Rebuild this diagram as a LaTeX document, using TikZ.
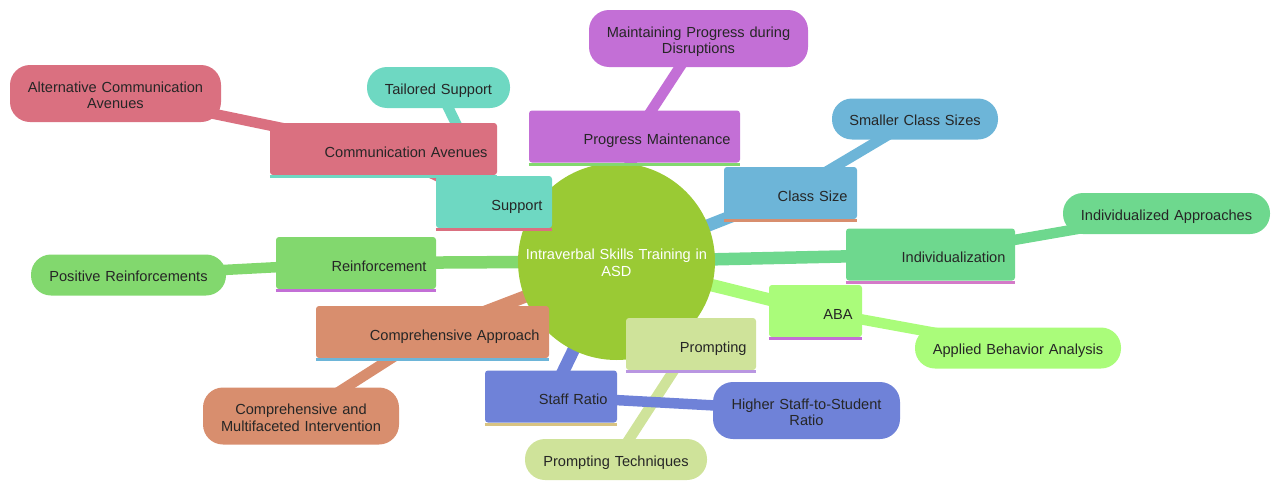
\documentclass[tikz,border=0pt]{standalone}
\usepackage{fontspec}
\setmainfont{Liberation Sans}
\usepackage{tikz}
\usetikzlibrary{positioning}

\pgfdeclarelayer{background}
\pgfsetlayers{background,main}

\definecolor{rootgreen}{RGB}{154,202,52}
\definecolor{commred}{RGB}{218,112,128}
\definecolor{supteal}{RGB}{110,216,194}
\definecolor{progpurple}{RGB}{195,111,214}
\definecolor{classblue}{RGB}{109,181,216}
\definecolor{indgreen}{RGB}{110,216,142}
\definecolor{abagreen}{RGB}{170,252,122}
\definecolor{promptpale}{RGB}{207,227,154}
\definecolor{staffblue}{RGB}{111,130,216}
\definecolor{compsalmon}{RGB}{216,142,110}
\definecolor{reingreen}{RGB}{130,216,110}
\definecolor{stripepink}{RGB}{212,122,200}
\definecolor{stripelilac}{RGB}{185,150,225}
\definecolor{stripetan}{RGB}{216,195,130}

\begin{document}
\begin{tikzpicture}[x=1pt, y=-1pt,
            every node/.style={font=\fontsize{14.6}{16.5}\selectfont, text=black!85},
            hub/.style={circle, fill=rootgreen, minimum size=197pt, inner sep=0pt, text=white, text width=190pt, align=center, text height=12pt, text depth=15.1pt},
            branch/.style={rectangle, fill=#1, rounded corners=3pt, minimum height=52pt, inner xsep=9.5pt, align=right, text height=18pt, text depth=1.6pt},
            leaf/.style={rectangle, fill=#1, rounded corners=20pt, minimum height=41pt, inner xsep=0pt, align=center, text height=15pt, text depth=1.6pt},
            leafwide/.style={leaf=#1, minimum height=57pt, text height=13pt, text depth=15.1pt},
            link/.style={draw=#1, line width=12.5pt},
            twig/.style={draw=#1, line width=10.5pt},
            stripe/.style={draw=#1, line width=3pt}]
            \useasboundingbox (0,0) rectangle (1280,490);

            % centre
            \node[hub] (root) at (616.5,261.5) {Intraverbal Skills Training in\\ASD};

            % first level
            \node[branch=commred, text width=208pt] (comm) at (383.5,149) {Communication Avenues};
            \draw[stripe=supteal] ([yshift=-1.5pt]comm.south west) -- ([yshift=-1.5pt]comm.south east);
            \node[branch=supteal, text width=97pt] (support) at (494,202) {Support};
            \draw[stripe=commred] ([yshift=-1.5pt]support.south west) -- ([yshift=-1.5pt]support.south east);
            \node[branch=progpurple, text width=192pt] (progress) at (634.5,136.5) {Progress Maintenance};
            \draw[stripe=reingreen] ([yshift=-1.5pt]progress.south west) -- ([yshift=-1.5pt]progress.south east);
            \node[branch=classblue, text width=114pt] (classsize) at (790.5,193) {Class Size};
            \draw[stripe=compsalmon] ([yshift=-1.5pt]classsize.south west) -- ([yshift=-1.5pt]classsize.south east);
            \node[branch=indgreen, text width=150pt] (indiv) at (930.5,254.5) {Individualization};
            \draw[stripe=stripepink] ([yshift=-1.5pt]indiv.south west) -- ([yshift=-1.5pt]indiv.south east);
            \node[branch=abagreen, text width=74pt] (aba) at (815.5,311) {ABA};
            \draw[stripe=progpurple] ([yshift=-1.5pt]aba.south west) -- ([yshift=-1.5pt]aba.south east);
            \node[branch=promptpale, text width=111pt] (prompting) at (691,344) {Prompting};
            \draw[stripe=stripelilac] ([yshift=-1.5pt]prompting.south west) -- ([yshift=-1.5pt]prompting.south east);
            \node[branch=staffblue, text width=113pt] (staff) at (551,396.5) {Staff Ratio};
            \draw[stripe=stripetan] ([yshift=-1.5pt]staff.south west) -- ([yshift=-1.5pt]staff.south east);
            \node[branch=compsalmon, text width=214pt] (compapp) at (432.5,332) {Comprehensive Approach};
            \draw[stripe=classblue] ([yshift=-1.5pt]compapp.south west) -- ([yshift=-1.5pt]compapp.south east);
            \node[branch=reingreen, text width=141pt] (reinf) at (356,263) {Reinforcement};
            \draw[stripe=progpurple] ([yshift=-1.5pt]reinf.south west) -- ([yshift=-1.5pt]reinf.south east);

            % second level
            \node[leaf=supteal, text width=143pt] (tailored) at (438.5,87.5) {Tailored Support};
            \node[leafwide=commred, text width=211pt] (altcomm) at (115.5,93.5) {Alternative Communication\\Avenues};
            \node[leafwide=progpurple, text width=219pt] (keepprog) at (698.5,38.5) {Maintaining Progress during\\Disruptions};
            \node[leaf=classblue, text width=166pt] (smaller) at (915,119) {Smaller Class Sizes};
            \node[leaf=indgreen, text width=207pt] (indappr) at (1166.5,213.5) {Individualized Approaches};
            \node[leaf=abagreen, text width=206pt] (applied) at (1018,348) {Applied Behavior Analysis};
            \node[leafwide=staffblue, text width=187pt] (higher) at (806.5,410.5) {Higher Staff-to-Student\\Ratio};
            \node[leaf=promptpale, text width=182pt] (techs) at (616,459.5) {Prompting Techniques};
            \node[leafwide=compsalmon, text width=196pt] (multi) at (301,416) {Comprehensive and\\Multifaceted Intervention};
            \node[leaf=reingreen, text width=195pt] (posreinf) at (128.5,275) {Positive Reinforcements};

            % connectors behind the boxes
            \begin{pgfonlayer}{background}
            \draw[link=commred] (root.center) -- (comm.center);
            \draw[twig=commred] (comm.center) -- (altcomm.center);
            \draw[link=supteal] (root.center) -- (support.center);
            \draw[twig=supteal] (support.center) -- (tailored.center);
            \draw[link=progpurple] (root.center) -- (progress.center);
            \draw[twig=progpurple] (progress.center) -- (keepprog.center);
            \draw[link=classblue] (root.center) -- (classsize.center);
            \draw[twig=classblue] (classsize.center) -- (smaller.center);
            \draw[link=indgreen] (root.center) -- (indiv.center);
            \draw[twig=indgreen] (indiv.center) -- (indappr.center);
            \draw[link=abagreen] (root.center) -- (aba.center);
            \draw[twig=abagreen] (aba.center) -- (applied.center);
            \draw[link=promptpale] (root.center) -- (prompting.center);
            \draw[twig=promptpale] (prompting.center) -- (techs.center);
            \draw[link=staffblue] (root.center) -- (staff.center);
            \draw[twig=staffblue] (staff.center) -- (higher.center);
            \draw[link=compsalmon] (root.center) -- (compapp.center);
            \draw[twig=compsalmon] (compapp.center) -- (multi.center);
            \draw[link=reingreen] (root.center) -- (reinf.center);
            \draw[twig=reingreen] (reinf.center) -- (posreinf.center);
            \end{pgfonlayer}
\end{tikzpicture}
\end{document}
